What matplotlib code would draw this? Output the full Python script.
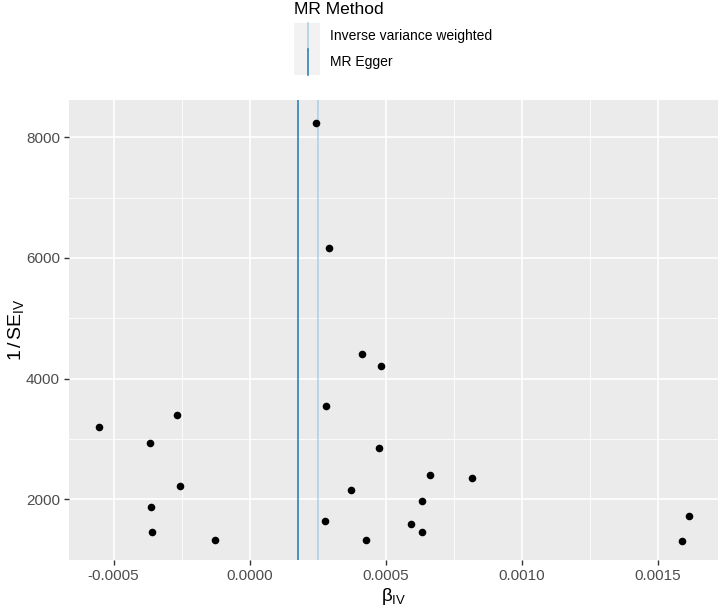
#!/usr/bin/env python3
"""Funnel plot (MR): 1/SE_IV frente a beta_IV, con las estimaciones IVW y MR Egger."""
import matplotlib
matplotlib.use("Agg")
import matplotlib.pyplot as plt
from matplotlib.lines import Line2D
from matplotlib.patches import Rectangle

plt.rcParams["font.family"] = ["Liberation Sans", "DejaVu Sans"]
plt.rcParams["mathtext.fontset"] = "custom"
plt.rcParams["mathtext.rm"] = "Liberation Sans"
plt.rcParams["mathtext.it"] = "Liberation Sans:italic"

# --- datos ---
beta_iv = [0.000243, 0.000292, 0.000415, 0.000482, 0.000282, -0.000554,
           -0.000267, -0.000368, 0.000474, -0.000257, 0.000372, -0.000363,
           0.000279, -0.000358, -0.000129, 0.000427, 0.000593, 0.000665,
           0.000819, 0.000635, 0.000632, 0.001617, 0.001591]
inv_se = [8237, 6170, 4408, 4215, 3547, 3198, 3392, 2928, 2855, 2220, 2149,
          1877, 1645, 1453, 1320, 1320, 1590, 2398, 2358, 1977, 1453, 1728, 1304]
methods = ["Inverse variance weighted", "MR Egger"]
method_b = [0.000253, 0.000177]
method_col = ["#a6cee3", "#1f78b4"]

W, H = 720, 606
GRAY = "#4D4D4D"


def fx(x):
    return x / W


def fy(y):
    return 1 - y / H


fig = plt.figure(figsize=(W / 100, H / 100), dpi=100)
ax = fig.add_axes([fx(69), fy(560), fx(718) - fx(69), fy(100) - fy(560)])
ax.set_facecolor("#EBEBEB")
for s in ax.spines.values():
    s.set_visible(False)

ax.scatter(beta_iv, inv_se, s=30, color="black", zorder=3, linewidths=0)
for b, c in zip(method_b, method_col):
    ax.axvline(b, color=c, lw=1.1, zorder=2)

ax.set_xlim(-0.000664, 0.001722)
ax.set_ylim(994, 8619)
ax.set_xticks([-0.0005, 0.0, 0.0005, 0.0010, 0.0015])
ax.set_xticklabels(["-0.0005", "0.0000", "0.0005", "0.0010", "0.0015"])
ax.set_yticks([2000, 4000, 6000, 8000])
ax.set_xticks([-0.00025, 0.00025, 0.00075, 0.00125], minor=True)
ax.set_yticks([3000, 5000, 7000], minor=True)
ax.grid(which="major", color="white", lw=1.2, zorder=0)
ax.grid(which="minor", color="white", lw=0.6, zorder=0)
ax.set_axisbelow(True)
ax.tick_params(which="major", length=3.5, width=1, color="#333333",
               labelcolor=GRAY, labelsize=11, pad=3)
ax.tick_params(which="minor", length=0)

ax.set_xlabel(r"$\mathrm{\beta_{IV}}$", fontsize=13.5, labelpad=2)
ax.set_ylabel(r"$\mathrm{1\,/\,SE_{IV}}$", fontsize=14, labelpad=0)

# --- leyenda (estilo ggplot, arriba) ---
fig.text(fx(294), fy(9), "MR Method", fontsize=12.5, va="center", ha="left")
key_top, key_h = 22.7, 26.2
for i, (m, c) in enumerate(zip(methods, method_col)):
    y0 = key_top + i * key_h
    fig.patches.append(Rectangle((fx(294), fy(y0 + key_h)), fx(320) - fx(294),
                                 fy(y0) - fy(y0 + key_h), transform=fig.transFigure,
                                 facecolor="#F2F2F2", edgecolor="none"))
    fig.lines.append(Line2D([fx(308), fx(308)], [fy(y0 + key_h), fy(y0)],
                            transform=fig.transFigure, color=c, lw=1.1))
    fig.text(fx(330), fy(y0 + key_h / 2), m, fontsize=10, va="center", ha="left")

fig.savefig("out.png", dpi=100)
